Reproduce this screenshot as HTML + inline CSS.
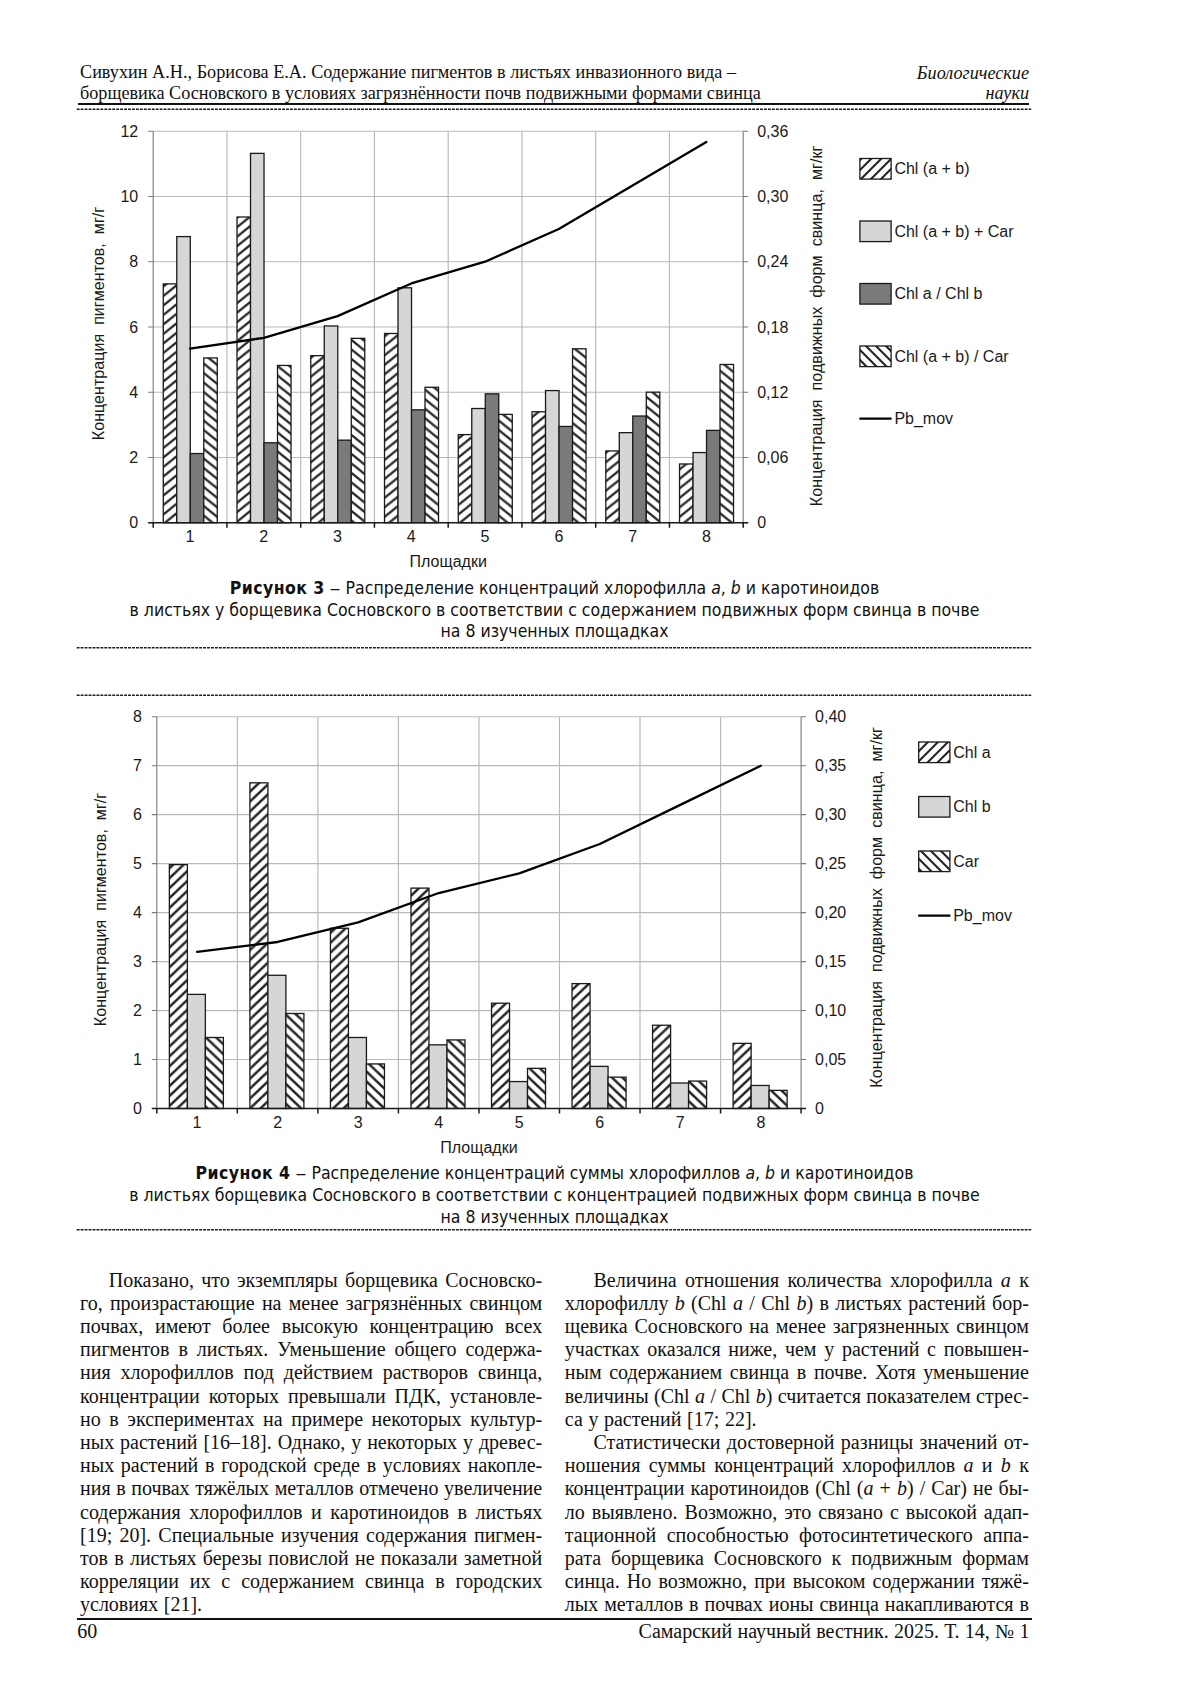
<!DOCTYPE html>
<html lang="ru"><head><meta charset="utf-8"><title>Самарский научный вестник</title><style>
html,body{margin:0;padding:0;background:#fff}
body{width:1200px;height:1697px;position:relative;overflow:hidden;color:#111}
div{position:absolute;white-space:nowrap}
.hd{font:18.2px/21px 'Liberation Serif', 'Times New Roman', serif}
.hr{text-align:right;font-style:italic}
.ft{font:20px/23px 'Liberation Serif', 'Times New Roman', serif}
.ft.hr{font-style:normal}
.bt{font:20px/23.2px 'Liberation Serif', 'Times New Roman', serif;white-space:normal}
.j{text-align:justify;text-align-last:justify}
.rule{background:#111}
.dash{height:0;border-top:1.3px dashed #222}
.cap{left:0;width:1109px;text-align:center;font:17.5px/22px 'DejaVu Sans Condensed', 'DejaVu Sans', 'Liberation Sans', sans-serif}
.cap i{font-style:oblique}
.cap b{letter-spacing:.42px}
.d{display:inline-block;position:static;transform:scaleX(1.4);margin:0 1.6px}
</style></head><body>
<svg width="1200" height="1697" viewBox="0 0 1200 1697" style="position:absolute;left:0;top:0">
<defs><pattern id="hf1" width="11.8" height="9.5" patternUnits="userSpaceOnUse"><rect width="11.8" height="9.5" fill="#fff"/><path d="M-23.6 19L11.8 -9.5M-11.8 19L23.6 -9.5M0 19L35.4 -9.5" stroke="#262626" stroke-width="2.35" fill="none"/></pattern><pattern id="hb1" width="11.8" height="9.5" patternUnits="userSpaceOnUse"><rect width="11.8" height="9.5" fill="#fff"/><path d="M-23.6 -9.5L11.8 19M-11.8 -9.5L23.6 19M0 -9.5L35.4 19" stroke="#262626" stroke-width="2.35" fill="none"/></pattern><pattern id="hf2" width="10.4" height="9.9" patternUnits="userSpaceOnUse"><rect width="10.4" height="9.9" fill="#fff"/><path d="M-20.8 19.8L10.4 -9.9M-10.4 19.8L20.8 -9.9M0 19.8L31.2 -9.9" stroke="#262626" stroke-width="2.45" fill="none"/></pattern><pattern id="hb2" width="10.4" height="9.9" patternUnits="userSpaceOnUse"><rect width="10.4" height="9.9" fill="#fff"/><path d="M-20.8 -9.9L10.4 19.8M-10.4 -9.9L20.8 19.8M0 -9.9L31.2 19.8" stroke="#262626" stroke-width="2.45" fill="none"/></pattern><pattern id="hfl" width="10" height="10" patternUnits="userSpaceOnUse"><rect width="10" height="10" fill="#fff"/><path d="M-20 20L10 -10M-10 20L20 -10M0 20L30 -10" stroke="#262626" stroke-width="2.1" fill="none"/></pattern><pattern id="hbl" width="10" height="10" patternUnits="userSpaceOnUse"><rect width="10" height="10" fill="#fff"/><path d="M-20 -10L10 20M-10 -10L20 20M0 -10L30 20" stroke="#262626" stroke-width="2.1" fill="none"/></pattern></defs>
<path d="M153.2 457.45H743.2M153.2 392.2H743.2M153.2 326.95H743.2M153.2 261.7H743.2M153.2 196.45H743.2M153.2 131.2H743.2M226.95 131.2V522.7M300.7 131.2V522.7M374.45 131.2V522.7M448.2 131.2V522.7M521.95 131.2V522.7M595.7 131.2V522.7M669.45 131.2V522.7" stroke="#b9b9b9" stroke-width="1.15" fill="none"/>
<rect x="163.27" y="283.88" width="13.5" height="238.82" fill="url(#hf1)" stroke="#1a1a1a" stroke-width="1.3"/>
<rect x="176.77" y="236.58" width="13.5" height="286.12" fill="#d6d6d6" stroke="#1a1a1a" stroke-width="1.3"/>
<rect x="190.27" y="453.54" width="13.5" height="69.17" fill="#7a7a7a" stroke="#1a1a1a" stroke-width="1.3"/>
<rect x="203.77" y="357.94" width="13.5" height="164.76" fill="url(#hb1)" stroke="#1a1a1a" stroke-width="1.3"/>
<rect x="237.02" y="217" width="13.5" height="305.7" fill="url(#hf1)" stroke="#1a1a1a" stroke-width="1.3"/>
<rect x="250.52" y="153.38" width="13.5" height="369.32" fill="#d6d6d6" stroke="#1a1a1a" stroke-width="1.3"/>
<rect x="264.02" y="442.77" width="13.5" height="79.93" fill="#7a7a7a" stroke="#1a1a1a" stroke-width="1.3"/>
<rect x="277.52" y="365.45" width="13.5" height="157.25" fill="url(#hb1)" stroke="#1a1a1a" stroke-width="1.3"/>
<rect x="310.77" y="355.66" width="13.5" height="167.04" fill="url(#hf1)" stroke="#1a1a1a" stroke-width="1.3"/>
<rect x="324.27" y="325.97" width="13.5" height="196.73" fill="#d6d6d6" stroke="#1a1a1a" stroke-width="1.3"/>
<rect x="337.77" y="440.16" width="13.5" height="82.54" fill="#7a7a7a" stroke="#1a1a1a" stroke-width="1.3"/>
<rect x="351.27" y="338.37" width="13.5" height="184.33" fill="url(#hb1)" stroke="#1a1a1a" stroke-width="1.3"/>
<rect x="384.52" y="333.48" width="13.5" height="189.23" fill="url(#hf1)" stroke="#1a1a1a" stroke-width="1.3"/>
<rect x="398.02" y="287.8" width="13.5" height="234.9" fill="#d6d6d6" stroke="#1a1a1a" stroke-width="1.3"/>
<rect x="411.52" y="409.82" width="13.5" height="112.88" fill="#7a7a7a" stroke="#1a1a1a" stroke-width="1.3"/>
<rect x="425.02" y="387.31" width="13.5" height="135.39" fill="url(#hb1)" stroke="#1a1a1a" stroke-width="1.3"/>
<rect x="458.27" y="434.61" width="13.5" height="88.09" fill="url(#hf1)" stroke="#1a1a1a" stroke-width="1.3"/>
<rect x="471.77" y="408.51" width="13.5" height="114.19" fill="#d6d6d6" stroke="#1a1a1a" stroke-width="1.3"/>
<rect x="485.27" y="393.83" width="13.5" height="128.87" fill="#7a7a7a" stroke="#1a1a1a" stroke-width="1.3"/>
<rect x="498.77" y="414.39" width="13.5" height="108.32" fill="url(#hb1)" stroke="#1a1a1a" stroke-width="1.3"/>
<rect x="532.03" y="411.78" width="13.5" height="110.93" fill="url(#hf1)" stroke="#1a1a1a" stroke-width="1.3"/>
<rect x="545.53" y="390.57" width="13.5" height="132.13" fill="#d6d6d6" stroke="#1a1a1a" stroke-width="1.3"/>
<rect x="559.03" y="426.46" width="13.5" height="96.24" fill="#7a7a7a" stroke="#1a1a1a" stroke-width="1.3"/>
<rect x="572.53" y="348.81" width="13.5" height="173.89" fill="url(#hb1)" stroke="#1a1a1a" stroke-width="1.3"/>
<rect x="605.78" y="450.93" width="13.5" height="71.78" fill="url(#hf1)" stroke="#1a1a1a" stroke-width="1.3"/>
<rect x="619.28" y="432.66" width="13.5" height="90.05" fill="#d6d6d6" stroke="#1a1a1a" stroke-width="1.3"/>
<rect x="632.78" y="416.02" width="13.5" height="106.68" fill="#7a7a7a" stroke="#1a1a1a" stroke-width="1.3"/>
<rect x="646.28" y="392.2" width="13.5" height="130.5" fill="url(#hb1)" stroke="#1a1a1a" stroke-width="1.3"/>
<rect x="679.53" y="463.98" width="13.5" height="58.73" fill="url(#hf1)" stroke="#1a1a1a" stroke-width="1.3"/>
<rect x="693.03" y="452.56" width="13.5" height="70.14" fill="#d6d6d6" stroke="#1a1a1a" stroke-width="1.3"/>
<rect x="706.53" y="430.37" width="13.5" height="92.33" fill="#7a7a7a" stroke="#1a1a1a" stroke-width="1.3"/>
<rect x="720.03" y="364.47" width="13.5" height="158.23" fill="url(#hb1)" stroke="#1a1a1a" stroke-width="1.3"/>
<path d="M153.2 131.2V522.7M743.2 131.2V522.7M148.2 522.7H153.2M743.2 522.7H748.2M148.2 457.45H153.2M743.2 457.45H748.2M148.2 392.2H153.2M743.2 392.2H748.2M148.2 326.95H153.2M743.2 326.95H748.2M148.2 261.7H153.2M743.2 261.7H748.2M148.2 196.45H153.2M743.2 196.45H748.2M148.2 131.2H153.2M743.2 131.2H748.2" stroke="#7a7a7a" stroke-width="1.1" fill="none"/>
<path d="M148.2 522.7H748.2M153.2 522.7V527.7M226.95 522.7V527.7M300.7 522.7V527.7M374.45 522.7V527.7M448.2 522.7V527.7M521.95 522.7V527.7M595.7 522.7V527.7M669.45 522.7V527.7M743.2 522.7V527.7" stroke="#1a1a1a" stroke-width="1.5" fill="none"/>
<polyline points="190.07,348.7 263.82,337.82 337.57,316.08 411.32,283.45 485.07,261.7 558.83,229.07 632.58,185.57 706.33,142.07" fill="none" stroke="#000" stroke-width="2.3" stroke-linejoin="round" stroke-linecap="round"/>
<g font-family="'Liberation Sans', Arial, sans-serif" font-size="16" fill="#1a1a1a">
<text x="138.2" y="528.4" text-anchor="end">0</text>
<text x="757.2" y="528.4">0</text>
<text x="138.2" y="463.15" text-anchor="end">2</text>
<text x="757.2" y="463.15">0,06</text>
<text x="138.2" y="397.9" text-anchor="end">4</text>
<text x="757.2" y="397.9">0,12</text>
<text x="138.2" y="332.65" text-anchor="end">6</text>
<text x="757.2" y="332.65">0,18</text>
<text x="138.2" y="267.4" text-anchor="end">8</text>
<text x="757.2" y="267.4">0,24</text>
<text x="138.2" y="202.15" text-anchor="end">10</text>
<text x="757.2" y="202.15">0,30</text>
<text x="138.2" y="136.9" text-anchor="end">12</text>
<text x="757.2" y="136.9">0,36</text>
<text x="190.07" y="542.2" text-anchor="middle">1</text>
<text x="263.82" y="542.2" text-anchor="middle">2</text>
<text x="337.57" y="542.2" text-anchor="middle">3</text>
<text x="411.32" y="542.2" text-anchor="middle">4</text>
<text x="485.07" y="542.2" text-anchor="middle">5</text>
<text x="558.83" y="542.2" text-anchor="middle">6</text>
<text x="632.58" y="542.2" text-anchor="middle">7</text>
<text x="706.33" y="542.2" text-anchor="middle">8</text>
<text x="448.2" y="566.7" text-anchor="middle">Площадки</text>
<text transform="translate(104 323.55) rotate(-90)" text-anchor="middle" font-size="16.13" style="white-space:pre">Концентрация  пигментов,  мг/г</text>
<text transform="translate(822 325.85) rotate(-90)" text-anchor="middle" font-size="16.16" style="white-space:pre">Концентрация  подвижных  форм  свинца,  мг/кг</text>
<rect x="859.9" y="158.5" width="31.2" height="20.6" fill="url(#hfl)" stroke="#1a1a1a" stroke-width="1.3"/>
<text x="894.4" y="174.3">Chl (a + b)</text>
<rect x="859.9" y="221" width="31.2" height="20.6" fill="#d6d6d6" stroke="#1a1a1a" stroke-width="1.3"/>
<text x="894.4" y="236.8">Chl (a + b) + Car</text>
<rect x="859.9" y="283.5" width="31.2" height="20.6" fill="#7a7a7a" stroke="#1a1a1a" stroke-width="1.3"/>
<text x="894.4" y="299.3">Chl a / Chl b</text>
<rect x="859.9" y="346" width="31.2" height="20.6" fill="url(#hbl)" stroke="#1a1a1a" stroke-width="1.3"/>
<text x="894.4" y="361.8">Chl (a + b) / Car</text>
<path d="M859.4 418.6H891.6" stroke="#000" stroke-width="2.1"/>
<text x="894.4" y="424.3">Pb_mov</text>
</g>
<path d="M156.8 1059.53H801.1M156.8 1010.55H801.1M156.8 961.58H801.1M156.8 912.6H801.1M156.8 863.62H801.1M156.8 814.65H801.1M156.8 765.68H801.1M156.8 716.7H801.1M237.34 716.7V1108.5M317.88 716.7V1108.5M398.41 716.7V1108.5M478.95 716.7V1108.5M559.49 716.7V1108.5M640.02 716.7V1108.5M720.56 716.7V1108.5" stroke="#b9b9b9" stroke-width="1.15" fill="none"/>
<rect x="169.37" y="864.6" width="18" height="243.9" fill="url(#hf2)" stroke="#1a1a1a" stroke-width="1.3"/>
<rect x="187.37" y="994.39" width="18" height="114.11" fill="#d6d6d6" stroke="#1a1a1a" stroke-width="1.3"/>
<rect x="205.37" y="1037.49" width="18" height="71.01" fill="url(#hb2)" stroke="#1a1a1a" stroke-width="1.3"/>
<rect x="249.91" y="782.82" width="18" height="325.68" fill="url(#hf2)" stroke="#1a1a1a" stroke-width="1.3"/>
<rect x="267.91" y="975.29" width="18" height="133.21" fill="#d6d6d6" stroke="#1a1a1a" stroke-width="1.3"/>
<rect x="285.91" y="1013.49" width="18" height="95.01" fill="url(#hb2)" stroke="#1a1a1a" stroke-width="1.3"/>
<rect x="330.44" y="928.27" width="18" height="180.23" fill="url(#hf2)" stroke="#1a1a1a" stroke-width="1.3"/>
<rect x="348.44" y="1037.49" width="18" height="71.01" fill="#d6d6d6" stroke="#1a1a1a" stroke-width="1.3"/>
<rect x="366.44" y="1063.93" width="18" height="44.57" fill="url(#hb2)" stroke="#1a1a1a" stroke-width="1.3"/>
<rect x="410.98" y="888.11" width="18" height="220.39" fill="url(#hf2)" stroke="#1a1a1a" stroke-width="1.3"/>
<rect x="428.98" y="1044.83" width="18" height="63.67" fill="#d6d6d6" stroke="#1a1a1a" stroke-width="1.3"/>
<rect x="446.98" y="1039.93" width="18" height="68.56" fill="url(#hb2)" stroke="#1a1a1a" stroke-width="1.3"/>
<rect x="491.52" y="1003.2" width="18" height="105.3" fill="url(#hf2)" stroke="#1a1a1a" stroke-width="1.3"/>
<rect x="509.52" y="1081.56" width="18" height="26.94" fill="#d6d6d6" stroke="#1a1a1a" stroke-width="1.3"/>
<rect x="527.52" y="1068.34" width="18" height="40.16" fill="url(#hb2)" stroke="#1a1a1a" stroke-width="1.3"/>
<rect x="572.06" y="983.61" width="18" height="124.89" fill="url(#hf2)" stroke="#1a1a1a" stroke-width="1.3"/>
<rect x="590.06" y="1066.38" width="18" height="42.12" fill="#d6d6d6" stroke="#1a1a1a" stroke-width="1.3"/>
<rect x="608.06" y="1077.16" width="18" height="31.34" fill="url(#hb2)" stroke="#1a1a1a" stroke-width="1.3"/>
<rect x="652.59" y="1025.24" width="18" height="83.26" fill="url(#hf2)" stroke="#1a1a1a" stroke-width="1.3"/>
<rect x="670.59" y="1083.03" width="18" height="25.47" fill="#d6d6d6" stroke="#1a1a1a" stroke-width="1.3"/>
<rect x="688.59" y="1081.07" width="18" height="27.43" fill="url(#hb2)" stroke="#1a1a1a" stroke-width="1.3"/>
<rect x="733.13" y="1043.36" width="18" height="65.14" fill="url(#hf2)" stroke="#1a1a1a" stroke-width="1.3"/>
<rect x="751.13" y="1085.48" width="18" height="23.02" fill="#d6d6d6" stroke="#1a1a1a" stroke-width="1.3"/>
<rect x="769.13" y="1090.38" width="18" height="18.12" fill="url(#hb2)" stroke="#1a1a1a" stroke-width="1.3"/>
<path d="M156.8 716.7V1108.5M801.1 716.7V1108.5M151.8 1108.5H156.8M801.1 1108.5H806.1M151.8 1059.53H156.8M801.1 1059.53H806.1M151.8 1010.55H156.8M801.1 1010.55H806.1M151.8 961.58H156.8M801.1 961.58H806.1M151.8 912.6H156.8M801.1 912.6H806.1M151.8 863.62H156.8M801.1 863.62H806.1M151.8 814.65H156.8M801.1 814.65H806.1M151.8 765.68H156.8M801.1 765.68H806.1M151.8 716.7H156.8M801.1 716.7H806.1" stroke="#7a7a7a" stroke-width="1.1" fill="none"/>
<path d="M151.8 1108.5H806.1M156.8 1108.5V1113.5M237.34 1108.5V1113.5M317.88 1108.5V1113.5M398.41 1108.5V1113.5M478.95 1108.5V1113.5M559.49 1108.5V1113.5M640.02 1108.5V1113.5M720.56 1108.5V1113.5M801.1 1108.5V1113.5" stroke="#1a1a1a" stroke-width="1.5" fill="none"/>
<polyline points="197.07,951.78 277.61,941.99 358.14,922.39 438.68,893.01 519.22,873.42 599.76,844.04 680.29,804.86 760.83,765.68" fill="none" stroke="#000" stroke-width="2.3" stroke-linejoin="round" stroke-linecap="round"/>
<g font-family="'Liberation Sans', Arial, sans-serif" font-size="16" fill="#1a1a1a">
<text x="141.8" y="1114.2" text-anchor="end">0</text>
<text x="815.1" y="1114.2">0</text>
<text x="141.8" y="1065.23" text-anchor="end">1</text>
<text x="815.1" y="1065.23">0,05</text>
<text x="141.8" y="1016.25" text-anchor="end">2</text>
<text x="815.1" y="1016.25">0,10</text>
<text x="141.8" y="967.28" text-anchor="end">3</text>
<text x="815.1" y="967.28">0,15</text>
<text x="141.8" y="918.3" text-anchor="end">4</text>
<text x="815.1" y="918.3">0,20</text>
<text x="141.8" y="869.33" text-anchor="end">5</text>
<text x="815.1" y="869.33">0,25</text>
<text x="141.8" y="820.35" text-anchor="end">6</text>
<text x="815.1" y="820.35">0,30</text>
<text x="141.8" y="771.38" text-anchor="end">7</text>
<text x="815.1" y="771.38">0,35</text>
<text x="141.8" y="722.4" text-anchor="end">8</text>
<text x="815.1" y="722.4">0,40</text>
<text x="197.07" y="1128" text-anchor="middle">1</text>
<text x="277.61" y="1128" text-anchor="middle">2</text>
<text x="358.14" y="1128" text-anchor="middle">3</text>
<text x="438.68" y="1128" text-anchor="middle">4</text>
<text x="519.22" y="1128" text-anchor="middle">5</text>
<text x="599.76" y="1128" text-anchor="middle">6</text>
<text x="680.29" y="1128" text-anchor="middle">7</text>
<text x="760.83" y="1128" text-anchor="middle">8</text>
<text x="478.95" y="1152.5" text-anchor="middle">Площадки</text>
<text transform="translate(105.7 909.5) rotate(-90)" text-anchor="middle" font-size="16.13" style="white-space:pre">Концентрация  пигментов,  мг/г</text>
<text transform="translate(881.5 907.35) rotate(-90)" text-anchor="middle" font-size="16.16" style="white-space:pre">Концентрация  подвижных  форм  свинца,  мг/кг</text>
<rect x="918.7" y="742" width="31.2" height="20.6" fill="url(#hfl)" stroke="#1a1a1a" stroke-width="1.3"/>
<text x="953.2" y="757.8">Chl a</text>
<rect x="918.7" y="796.5" width="31.2" height="20.6" fill="#d6d6d6" stroke="#1a1a1a" stroke-width="1.3"/>
<text x="953.2" y="812.3">Chl b</text>
<rect x="918.7" y="851" width="31.2" height="20.6" fill="url(#hbl)" stroke="#1a1a1a" stroke-width="1.3"/>
<text x="953.2" y="866.8">Car</text>
<path d="M918.2 915.6H950.4" stroke="#000" stroke-width="2.1"/>
<text x="953.2" y="921.3">Pb_mov</text>
</g>
<path d="M76.7 109.2H1031.2M76.7 647.65H1031.2M76.7 695.15H1031.2M76.7 1229.65H1031.2" stroke="#1c1c1c" stroke-width="1.5" stroke-dasharray="2.9 1.05" fill="none"/>
</svg>
<div class="hd" style="left:80px;top:62.3px;width:700px;word-spacing:0.07px">Сивухин А.Н., Борисова Е.А. Содержание пигментов в листьях инвазионного вида –</div>
<div class="hd" style="left:80px;top:82.7px;width:700px;">борщевика Сосновского в условиях загрязнённости почв подвижными формами свинца</div>
<div class="hd hr" style="left:829px;top:62.8px;width:200px;">Биологические</div>
<div class="hd hr" style="left:829px;top:82.7px;width:200px;">науки</div>
<div class="rule" style="left:78.3px;top:102.7px;width:950.6px;height:2.8px"></div>
<div class="cap" style="top:576.5px"><b>Рисунок 3</b> <span class="d">–</span> Распределение концентраций хлорофилла <i>a</i>, <i>b</i> и каротиноидов</div>
<div class="cap" style="top:598.9px">в листьях у борщевика Сосновского в соответствии с содержанием подвижных форм свинца в почве</div>
<div class="cap" style="top:620px">на 8 изученных площадках</div>
<div class="cap" style="top:1161.8px"><b>Рисунок 4</b> <span class="d">–</span> Распределение концентраций суммы хлорофиллов <i>a</i>, <i>b</i> и каротиноидов</div>
<div class="cap" style="top:1183.8px">в листьях борщевика Сосновского в соответствии с концентрацией подвижных форм свинца в почве</div>
<div class="cap" style="top:1205.8px">на 8 изученных площадках</div>
<div class="bt j" style="left:108.7px;top:1268.5px;width:433.5px;">Показано, что экземпляры борщевика Сосновско-</div>
<div class="bt j" style="left:80px;top:1291.7px;width:462.2px;">го, произрастающие на менее загрязнённых свинцом</div>
<div class="bt j" style="left:80px;top:1314.9px;width:462.2px;">почвах, имеют более высокую концентрацию всех</div>
<div class="bt j" style="left:80px;top:1338.1px;width:462.2px;">пигментов в листьях. Уменьшение общего содержа-</div>
<div class="bt j" style="left:80px;top:1361.3px;width:462.2px;">ния хлорофиллов под действием растворов свинца,</div>
<div class="bt j" style="left:80px;top:1384.5px;width:462.2px;">концентрации которых превышали ПДК, установле-</div>
<div class="bt j" style="left:80px;top:1407.7px;width:462.2px;">но в экспериментах на примере некоторых культур-</div>
<div class="bt j" style="left:80px;top:1430.9px;width:462.2px;">ных растений [16–18]. Однако, у некоторых у древес-</div>
<div class="bt j" style="left:80px;top:1454.1px;width:462.2px;">ных растений в городской среде в условиях накопле-</div>
<div class="bt j" style="left:80px;top:1477.3px;width:462.2px;">ния в почвах тяжёлых металлов отмечено увеличение</div>
<div class="bt j" style="left:80px;top:1500.5px;width:462.2px;">содержания хлорофиллов и каротиноидов в листьях</div>
<div class="bt j" style="left:80px;top:1523.7px;width:462.2px;">[19; 20]. Специальные изучения содержания пигмен-</div>
<div class="bt j" style="left:80px;top:1546.9px;width:462.2px;">тов в листьях березы повислой не показали заметной</div>
<div class="bt j" style="left:80px;top:1570.1px;width:462.2px;">корреляции их с содержанием свинца в городских</div>
<div class="bt" style="left:80px;top:1593.3px;width:462.2px;word-spacing:0.6px">условиях [21].</div>
<div class="bt j" style="left:593.5px;top:1268.5px;width:435.4px;">Величина отношения количества хлорофилла <i>a</i> к</div>
<div class="bt j" style="left:564.8px;top:1291.7px;width:464.1px;">хлорофиллу <i>b</i> (Chl <i>a</i> / Chl <i>b</i>) в листьях растений бор-</div>
<div class="bt j" style="left:564.8px;top:1314.9px;width:464.1px;">щевика Сосновского на менее загрязненных свинцом</div>
<div class="bt j" style="left:564.8px;top:1338.1px;width:464.1px;">участках оказался ниже, чем у растений с повышен-</div>
<div class="bt j" style="left:564.8px;top:1361.3px;width:464.1px;">ным содержанием свинца в почве. Хотя уменьшение</div>
<div class="bt j" style="left:564.8px;top:1384.5px;width:464.1px;">величины (Chl <i>a</i> / Chl <i>b</i>) считается показателем стрес-</div>
<div class="bt" style="left:564.8px;top:1407.7px;width:464.1px;word-spacing:0.6px">са у растений [17; 22].</div>
<div class="bt j" style="left:593.5px;top:1430.9px;width:435.4px;">Статистически достоверной разницы значений от-</div>
<div class="bt j" style="left:564.8px;top:1454.1px;width:464.1px;">ношения суммы концентраций хлорофиллов <i>a</i> и <i>b</i> к</div>
<div class="bt j" style="left:564.8px;top:1477.3px;width:464.1px;">концентрации каротиноидов (Chl (<i>a</i> + <i>b</i>) / Car) не бы-</div>
<div class="bt j" style="left:564.8px;top:1500.5px;width:464.1px;">ло выявлено. Возможно, это связано с высокой адап-</div>
<div class="bt j" style="left:564.8px;top:1523.7px;width:464.1px;">тационной способностью фотосинтетического аппа-</div>
<div class="bt j" style="left:564.8px;top:1546.9px;width:464.1px;">рата борщевика Сосновского к подвижным формам</div>
<div class="bt j" style="left:564.8px;top:1570.1px;width:464.1px;">синца. Но возможно, при высоком содержании тяжё-</div>
<div class="bt j" style="left:564.8px;top:1593.3px;width:464.1px;">лых металлов в почвах ионы свинца накапливаются в</div>
<div class="rule" style="left:77px;top:1617.8px;width:954.7px;height:2.5px"></div>
<div class="ft" style="left:77.2px;top:1620.2px;width:100px;">60</div>
<div class="ft hr" style="left:629.5px;top:1620.2px;width:400px;word-spacing:0.3px">Самарский научный вестник. 2025. Т. 14, № 1</div>
</body></html>
